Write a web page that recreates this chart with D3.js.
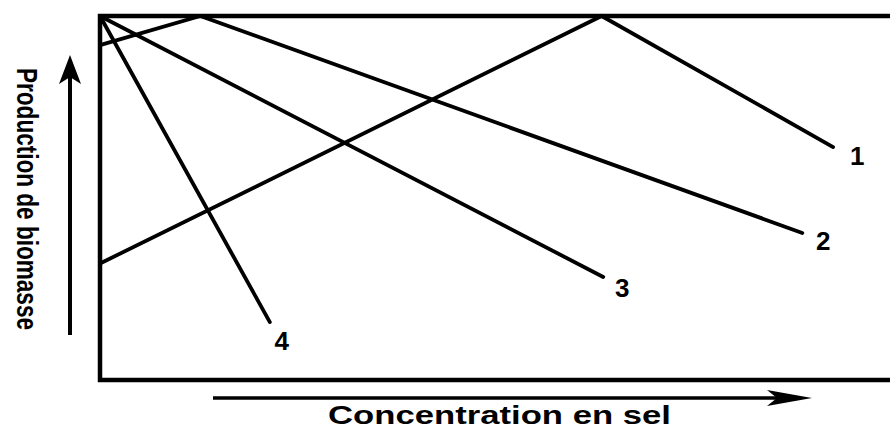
<!DOCTYPE html>
<html>
<head>
<meta charset="utf-8">
<script src="https://cdn.jsdelivr.net/npm/d3@7"></script>
<style>
  html, body { margin: 0; padding: 0; background: #fff; }
  svg { display: block; }
</style>
</head>
<body>
<svg id="chart" width="890" height="430"></svg>
<script>
// ---- Data (schematic: salt concentration vs biomass production, 0-100 units)
const seriesNames = ["1", "2", "3", "4"];
const series1X = [0, 63.5, 92.8];
const series1Y = [32, 100, 64];
const series2X = [0, 12.7, 88.9];
const series2Y = [92, 100, 40.4];
const series3X = [0, 63.7];
const series3Y = [100, 28.3];
const series4X = [0, 21.5];
const series4Y = [100, 15.9];
const xAxisTitle = "Concentration en sel";
const yAxisTitle = "Production de biomasse";

const seriesX = [series1X, series2X, series3X, series4X];
const seriesY = [series1Y, series2Y, series3Y, series4Y];

// ---- Layout
const svg = d3.select("#chart");
const x = d3.scaleLinear().domain([0, 100]).range([100, 890]);
const y = d3.scaleLinear().domain([0, 100]).range([380, 16]);

// frame (left, top, bottom; right side runs off the picture)
svg.append("path")
  .attr("d", `M${x(100)},${y(100)}H${x(0)}V${y(0)}H${x(100)}`)
  .attr("fill", "none").attr("stroke", "#000").attr("stroke-width", 4.5);

// series lines
const line = d3.line().x(d => x(d[0])).y(d => y(d[1]));
const labelOffsets = [[24, 18], [21, 17], [19, 20], [12, 28]];
seriesNames.forEach((name, i) => {
  const pts = seriesX[i].map((v, j) => [v, seriesY[i][j]]);
  svg.append("path")
    .attr("d", line(pts))
    .attr("fill", "none").attr("stroke", "#000")
    .attr("stroke-width", 3.8).attr("stroke-linejoin", "miter").attr("stroke-linecap", "round");
  const last = pts[pts.length - 1];
  svg.append("text")
    .attr("x", x(last[0]) + labelOffsets[i][0])
    .attr("y", y(last[1]) + labelOffsets[i][1])
    .attr("text-anchor", "middle")
    .attr("font-family", "Liberation Sans, Arial, sans-serif")
    .attr("font-weight", "bold").attr("font-size", 26)
    .attr("fill", "#000")
    .text(name);
});

// y arrow
svg.append("line").attr("x1", 70).attr("y1", 335).attr("x2", 70).attr("y2", 70)
  .attr("stroke", "#000").attr("stroke-width", 4);
svg.append("path").attr("d", "M70,55L81,84L70,77L59,84Z").attr("fill", "#000");

// x arrow
svg.append("line").attr("x1", 213).attr("y1", 398).attr("x2", 790).attr("y2", 398)
  .attr("stroke", "#000").attr("stroke-width", 3.5);
svg.append("path").attr("d", "M812,398L767,390L777,398L767,406Z").attr("fill", "#000");

// axis titles
svg.append("text")
  .attr("x", 328).attr("y", 424)
  .attr("font-family", "Liberation Sans, Arial, sans-serif")
  .attr("font-weight", "bold").attr("font-size", 25)
  .attr("textLength", 343).attr("lengthAdjust", "spacingAndGlyphs")
  .attr("fill", "#000")
  .text(xAxisTitle);

svg.append("text")
  .attr("transform", "translate(27,199) rotate(90)")
  .attr("text-anchor", "middle").attr("dy", "0.36em")
  .attr("font-family", "Liberation Sans Narrow, Liberation Sans, Arial, sans-serif")
  .attr("font-weight", "bold").attr("font-size", 29)
  .attr("textLength", 262).attr("lengthAdjust", "spacingAndGlyphs")
  .attr("fill", "#000")
  .text(yAxisTitle);
</script>
</body>
</html>
